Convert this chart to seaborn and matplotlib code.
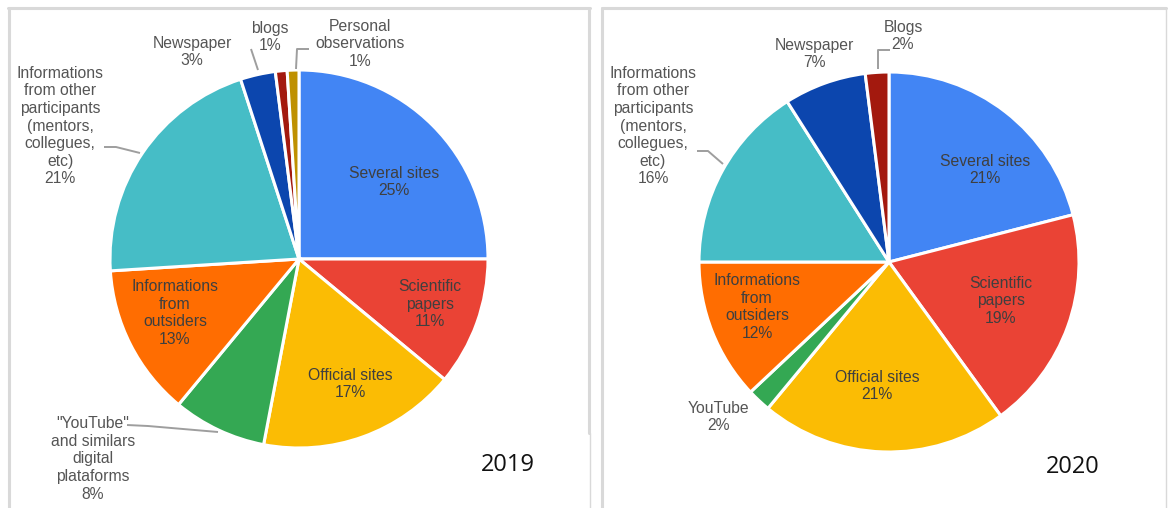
import matplotlib
matplotlib.use("Agg")
import matplotlib.pyplot as plt
import seaborn as sns

# ---------------- data ----------------
cats_2019 = ["Several sites", "Scientific\npapers", "Official sites",
             "\"YouTube\"\nand similars\ndigital\nplataforms",
             "Informations\nfrom\noutsiders",
             "Informations\nfrom other\nparticipants\n(mentors,\ncollegues,\netc)",
             "Newspaper", "blogs", "Personal\nobservations"]
vals_2019 = [25, 11, 17, 8, 13, 21, 3, 1, 1]

cats_2020 = ["Several sites", "Scientific\npapers", "Official sites", "YouTube",
             "Informations\nfrom\noutsiders",
             "Informations\nfrom other\nparticipants\n(mentors,\ncollegues,\netc)",
             "Newspaper", "Blogs"]
vals_2020 = [21, 19, 21, 2, 12, 16, 7, 2]

year_labels = ["2019", "2020"]

# ---------------- style ----------------
colors_2019 = ["#4285F4", "#EA4335", "#FBBC04", "#34A853", "#FF6D01",
               "#46BDC6", "#0C46AE", "#A3190E", "#BF9000"]
colors_2020 = ["#4285F4", "#EA4335", "#FBBC04", "#34A853", "#FF6D01",
               "#46BDC6", "#0C46AE", "#A3190E"]

sns.set_theme(style="white")
plt.rcParams['font.family'] = ['Liberation Sans', 'DejaVu Sans']

W, H = 1168, 508
fig = plt.figure(figsize=(W / 100, H / 100), dpi=100)
ax = fig.add_axes([0, 0, 1, 1])

def fy(y):
    return H - y

# pies: center (pixel), radius
pies = [
    (vals_2019, colors_2019, (299, 259), 189),
    (vals_2020, colors_2020, (889, 262), 190),
]
for vals, cols, (cx, cy), r in pies:
    ax.pie(vals, colors=sns.color_palette(cols), startangle=90, counterclock=False,
           center=(cx, fy(cy)), radius=r,
           wedgeprops=dict(edgecolor="white", linewidth=2.2))

# label positions (pixel coords, center of text block) and inside/outside flag
pos_2019 = [(394, 182, True), (430, 304, True), (350, 384, True),
            (93, 459, False), (175, 313, True), (60, 126, False),
            (192, 52, False), (270, 37, False), (360, 44, False)]
pos_2020 = [(985, 170, True), (1001, 301, True), (877, 386, True),
            (718, 417, False), (757, 307, True), (653, 126, False),
            (814, 54, False), (903, 36, False)]

for cats, vals, poss in [(cats_2019, vals_2019, pos_2019),
                         (cats_2020, vals_2020, pos_2020)]:
    for c, v, (x, y, inside) in zip(cats, vals, poss):
        ax.text(x, fy(y), f"{c}\n{v}%", ha="center", va="center",
                multialignment="center", fontsize=11.3, linespacing=1.22,
                color="#3f3f3f" if inside else "#555555")

# leader lines
leaders = [
    [(127, 425), (148, 426), (218, 432)],
    [(104, 147), (116, 147), (140, 153)],
    [(251, 49), (258, 70)],
    [(309, 49), (297, 49), (296, 69)],
    [(697, 151), (708, 151), (723, 164)],
    [(890, 50), (878, 50), (878, 69)],
]
for pts in leaders:
    ax.plot([p[0] for p in pts], [fy(p[1]) for p in pts], color="#9e9e9e", lw=1.4,
            solid_capstyle="butt", zorder=5)

# panel borders
bc = "#d9d9d9"
borders = [
    ([8, 590], [8, 8], 2.2), ([9, 9], [8, 508], 2.2), ([589, 589], [8, 433], 2.2),
    ([590, 590], [433, 508], 1.0),
    ([602, 1166], [8, 8], 2.2), ([602, 602], [8, 508], 2.2), ([1166, 1166], [8, 508], 1.0),
]
for xs, ys, lw in borders:
    ax.plot(xs, [fy(y) for y in ys], color=bc, lw=lw, zorder=0)

# year labels
for txt, (x, y) in zip(year_labels, [(508, 465), (1073, 467)]):
    ax.text(x, fy(y), txt, ha="center", va="center", fontsize=17,
            family=["Open Sans", "DejaVu Sans"], color="#111111")

ax.set_xlim(0, W)
ax.set_ylim(0, H)
ax.set_aspect("equal")
ax.axis("off")

fig.savefig("out.png", dpi=100)
